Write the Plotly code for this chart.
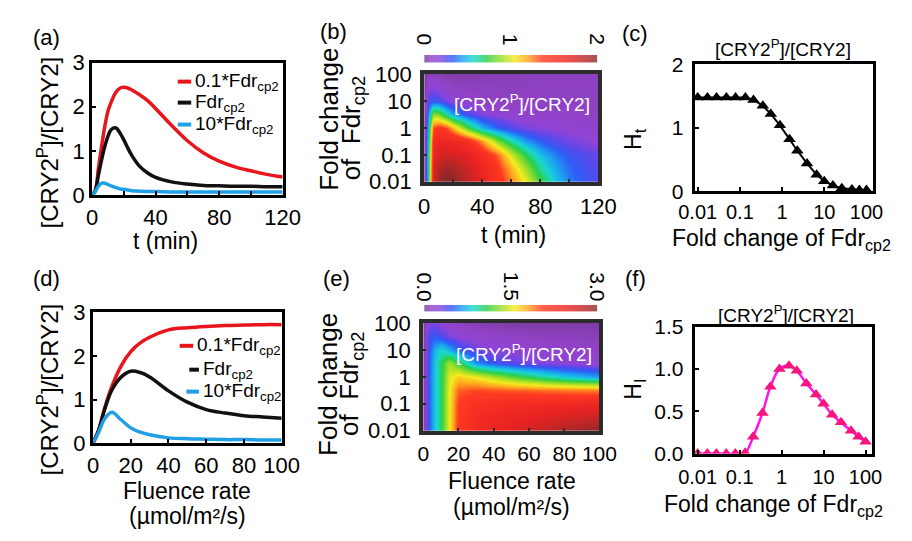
import plotly.graph_objects as go

W, H = 912, 541
FONT = "Liberation Sans"

# ---------------- data ----------------
# (a) [CRY2P]/[CRY2] versus time for three Fdr_cp2 levels
t_min = [0, 2, 4, 6, 8, 10, 12, 15, 18, 20, 22, 25, 30, 35, 40, 50, 60, 70, 80, 90, 100, 110, 120]
ratio_t_01 = [0, 0.1, 0.6, 1.1, 1.55, 1.9, 2.1, 2.33, 2.43, 2.44, 2.43, 2.38, 2.27, 2.14, 1.96,
              1.58, 1.23, 0.96, 0.77, 0.64, 0.55, 0.47, 0.41]
ratio_t_1 = [0, 0.1, 0.45, 0.8, 1.1, 1.33, 1.48, 1.52, 1.38, 1.25, 1.1, 0.9, 0.65, 0.5, 0.4,
             0.3, 0.25, 0.22, 0.21, 0.2, 0.2, 0.19, 0.19]
ratio_t_10 = [0, 0.08, 0.2, 0.27, 0.27, 0.24, 0.21, 0.17, 0.14, 0.13, 0.12, 0.1, 0.09, 0.08, 0.08,
              0.07, 0.07, 0.07, 0.07, 0.07, 0.07, 0.07, 0.07]

# (d) [CRY2P]/[CRY2] versus fluence rate
fluence = [0, 3, 6, 10, 15, 20, 25, 30, 40, 50, 60, 70, 80, 90, 100]
ratio_f_01 = [0, 0.3, 0.78, 1.3, 1.78, 2.1, 2.3, 2.43, 2.6, 2.65, 2.68, 2.7, 2.71, 2.72, 2.72]
ratio_f_1 = [0, 0.3, 0.75, 1.22, 1.52, 1.65, 1.62, 1.52, 1.2, 0.94, 0.77, 0.69, 0.63, 0.6, 0.57]
ratio_f_10 = [0, 0.25, 0.55, 0.71, 0.53, 0.35, 0.25, 0.19, 0.12, 0.1, 0.09, 0.08, 0.08, 0.07, 0.07]

series_names = ["0.1*Fdr<sub>cp2</sub>", "Fdr<sub>cp2</sub>", "10*Fdr<sub>cp2</sub>"]
series_colors = ["#e8161c", "#111111", "#1e9fe6"]

# (c), (f) sensitivity versus fold change of Fdr_cp2
fold_change = [0.01, 0.017, 0.028, 0.048, 0.079, 0.135, 0.21, 0.35, 0.54, 0.89,
               1.5, 2.3, 3.9, 6.6, 10, 16, 26, 45, 68, 100]
H_t = [1.48, 1.48, 1.48, 1.48, 1.48, 1.48, 1.44, 1.35, 1.22, 1.04,
       0.82, 0.64, 0.44, 0.26, 0.16, 0.09, 0.05, 0.03, 0.02, 0.02]
H_I = [0, 0, 0, 0, 0, 0.01, 0.2, 0.48, 0.79, 1.0,
       1.04, 0.98, 0.83, 0.7, 0.59, 0.46, 0.37, 0.27, 0.2, 0.14]

# (b) heat map over time (columns) and log10 fold change (rows)
hm_log_fold = [-2, -1.5, -1, -0.5, 0, 0.5, 1, 1.5, 2]
hm_t = [0, 3, 6, 10, 15, 20, 30, 40, 50, 60, 70, 80, 90, 100, 110, 120]
z_time = [
    [0, 0.6, 1.75, 1.95, 2.0, 1.98, 1.85, 1.65, 1.45, 1.25, 1.02, 0.75, 0.52, 0.38, 0.3, 0.25],
    [0, 0.6, 1.7, 1.88, 1.92, 1.9, 1.78, 1.6, 1.4, 1.15, 0.88, 0.62, 0.45, 0.34, 0.28, 0.24],
    [0, 0.6, 1.62, 1.75, 1.78, 1.76, 1.68, 1.52, 1.3, 0.98, 0.7, 0.5, 0.38, 0.3, 0.25, 0.22],
    [0, 0.55, 1.55, 1.62, 1.62, 1.6, 1.48, 1.2, 0.85, 0.6, 0.42, 0.32, 0.25, 0.2, 0.17, 0.15],
    [0, 0.5, 1.35, 1.42, 1.35, 1.15, 0.75, 0.48, 0.33, 0.25, 0.2, 0.17, 0.15, 0.13, 0.12, 0.11],
    [0, 0.4, 0.85, 0.8, 0.6, 0.42, 0.26, 0.18, 0.14, 0.12, 0.1, 0.09, 0.08, 0.08, 0.07, 0.07],
    [0, 0.25, 0.3, 0.27, 0.2, 0.15, 0.1, 0.08, 0.07, 0.07, 0.07, 0.07, 0.07, 0.07, 0.07, 0.07],
    [0, 0.15, 0.16, 0.12, 0.09, 0.07, 0.06, 0.06, 0.06, 0.06, 0.06, 0.07, 0.07, 0.07, 0.07, 0.07],
    [0, 0.05, 0.05, 0.04, 0.03, 0.03, 0.03, 0.04, 0.05, 0.05, 0.06, 0.06, 0.06, 0.06, 0.06, 0.06],
]

# (e) heat map over fluence rate (columns) and log10 fold change (rows)
hm_fluence = [0, 3, 6, 10, 15, 20, 30, 40, 50, 60, 70, 80, 90, 100]
z_fluence = [
    [0, 0.45, 0.75, 1.05, 1.55, 2.1, 2.35, 2.45, 2.55, 2.65, 2.75, 2.85, 2.92, 2.97],
    [0, 0.45, 0.75, 1.05, 1.55, 2.08, 2.3, 2.38, 2.45, 2.5, 2.55, 2.6, 2.65, 2.7],
    [0, 0.45, 0.75, 1.05, 1.55, 2.05, 2.2, 2.25, 2.3, 2.32, 2.35, 2.37, 2.4, 2.42],
    [0, 0.45, 0.75, 1.05, 1.55, 1.95, 2.0, 1.98, 1.95, 1.93, 1.9, 1.88, 1.86, 1.85],
    [0, 0.45, 0.75, 1.05, 1.5, 1.65, 1.55, 1.38, 1.2, 1.05, 0.92, 0.8, 0.72, 0.65],
    [0, 0.45, 0.75, 1.05, 1.35, 1.1, 0.6, 0.45, 0.36, 0.3, 0.26, 0.22, 0.2, 0.18],
    [0, 0.4, 0.7, 0.85, 0.7, 0.5, 0.32, 0.24, 0.2, 0.17, 0.15, 0.14, 0.13, 0.12],
    [0, 0.4, 0.45, 0.38, 0.28, 0.22, 0.16, 0.13, 0.11, 0.1, 0.09, 0.09, 0.08, 0.08],
    [0, 0.25, 0.28, 0.22, 0.15, 0.1, 0.06, 0.04, 0.03, 0.03, 0.03, 0.03, 0.03, 0.03],
]

fold_tickvals_log = [-2, -1, 0, 1, 2]
fold_ticktext = ["0.01", "0.1", "1", "10", "100"]
cbar_time_range = [0, 2]
cbar_time_ticks = [0, 1, 2]
cbar_time_text = ["0", "1", "2"]
cbar_flu_range = [0, 3]
cbar_flu_ticks = [0, 1.5, 3]
cbar_flu_text = ["0.0", "1.5", "3.0"]

rainbow = [
    [0.00, "#7a3a9e"], [0.04, "#9242c8"], [0.08, "#8e44d8"], [0.12, "#5a48ec"],
    [0.16, "#2f5cf6"], [0.22, "#1aa6f0"], [0.28, "#1ad8d0"], [0.36, "#2cd046"],
    [0.44, "#9ade2a"], [0.52, "#f4ec1e"], [0.60, "#ffa020"], [0.68, "#ff3a22"],
    [0.84, "#e82222"], [0.92, "#c02626"], [1.00, "#862828"],
]

# ---------------- layout helpers (pixel -> paper) ----------------
def xd(left, right):
    return [left / W, right / W]


def yd(top, bottom):
    return [1 - bottom / H, 1 - top / H]


def tickfont(size=22):
    return dict(family=FONT, size=size, color="black")


def framed(domain, rng, anchor, lw=3, lc="black", **kw):
    ax = dict(domain=domain, range=rng, anchor=anchor, showline=True, linecolor=lc,
              linewidth=lw, mirror=True, ticks="inside", ticklen=4, tickwidth=2,
              tickcolor="black", showgrid=False, zeroline=False, tickfont=tickfont())
    ax.update(kw)
    return ax


fig = go.Figure()

# (a) time courses
for y, name, col in zip([ratio_t_01, ratio_t_1, ratio_t_10], series_names, series_colors):
    fig.add_trace(go.Scatter(x=t_min, y=y, mode="lines", name=name, showlegend=False,
                             line=dict(color=col, width=3.5, shape="spline"),
                             xaxis="x", yaxis="y"))

# (d) fluence responses
for y, name, col in zip([ratio_f_01, ratio_f_1, ratio_f_10], series_names, series_colors):
    fig.add_trace(go.Scatter(x=fluence, y=y, mode="lines", name=name, showlegend=False,
                             line=dict(color=col, width=3.5, shape="spline"),
                             xaxis="x4", yaxis="y4"))

# (b) heat map over time
fig.add_trace(go.Heatmap(x=hm_t, y=hm_log_fold, z=z_time, colorscale=rainbow,
                         zmin=cbar_time_range[0], zmax=cbar_time_range[1], zsmooth="best",
                         showscale=False, xaxis="x2", yaxis="y2"))
fig.add_trace(go.Heatmap(x=cbar_time_range, y=[0, 1], z=[cbar_time_range, cbar_time_range],
                         colorscale=rainbow, zmin=cbar_time_range[0], zmax=cbar_time_range[1],
                         zsmooth="best", showscale=False, xaxis="x7", yaxis="y7", opacity=0.8))

# (e) heat map over fluence rate
fig.add_trace(go.Heatmap(x=hm_fluence, y=hm_log_fold, z=z_fluence, colorscale=rainbow,
                         zmin=cbar_flu_range[0], zmax=cbar_flu_range[1], zsmooth="best",
                         showscale=False, xaxis="x5", yaxis="y5"))
fig.add_trace(go.Heatmap(x=cbar_flu_range, y=[0, 1], z=[cbar_flu_range, cbar_flu_range],
                         colorscale=rainbow, zmin=cbar_flu_range[0], zmax=cbar_flu_range[1],
                         zsmooth="best", showscale=False, xaxis="x8", yaxis="y8", opacity=0.8))

# (c) H_t
fig.add_trace(go.Scatter(x=fold_change, y=H_t, mode="lines+markers", showlegend=False,
                         line=dict(color="black", width=2),
                         marker=dict(symbol="triangle-up", size=11, color="black"),
                         xaxis="x3", yaxis="y3"))
# (f) H_I
fig.add_trace(go.Scatter(x=fold_change, y=H_I, mode="lines+markers", showlegend=False,
                         line=dict(color="#ff14f0", width=2.5, shape="spline"),
                         marker=dict(symbol="triangle-up", size=11, color="#f5157d"),
                         xaxis="x6", yaxis="y6"))

heat_frame = dict(lw=4, lc="#2c2c2c", ticklen=3, tickcolor="#2c2c2c")

layout = dict(
    width=W, height=H, margin=dict(l=0, r=0, t=0, b=0),
    paper_bgcolor="white", plot_bgcolor="white", showlegend=False,
    font=dict(family=FONT, color="black"),
    # (a)
    xaxis=framed(xd(79, 277), [0, 120], "y", tickvals=[0, 20, 40, 60, 80, 100, 120],
                 ticktext=["0", "", "40", "", "80", "", "120"], ticklabelstandoff=0),
    yaxis=framed(yd(53, 192), [0, 3], "x", tickvals=[0, 1, 2, 3]),
    # (b)
    xaxis2=framed(xd(424, 605), [0, 120], "y2", tickvals=[0, 20, 40, 60, 80, 100, 120],
                  ticktext=["0", "", "40", "", "80", "", "120"], ticklabelstandoff=2,
                  **heat_frame),
    yaxis2=framed(yd(65, 178), [-2, 2], "x2", tickvals=fold_tickvals_log,
                  ticktext=fold_ticktext, ticklabelstandoff=4, **heat_frame),
    # (c)
    xaxis3=framed(xd(705, 890), [-2.07, 2.15], "y3", type="log",
                  tickvals=[0.01, 0.1, 1, 10, 100], ticktext=fold_ticktext,
                  tickfont=tickfont(20), ticklabelstandoff=1),
    yaxis3=framed(yd(55, 188), [0, 2], "x3", tickvals=[0, 1, 2], tickfont=tickfont(21),
                  ticklabelstandoff=4),
    # (d)
    xaxis4=framed(xd(80, 276), [0, 100], "y4", tickvals=[0, 20, 40, 60, 80, 100],
                  ticklabelstandoff=0),
    yaxis4=framed(yd(315, 452), [0, 3], "x4", tickvals=[0, 1, 2, 3]),
    # (e)
    xaxis5=framed(xd(423, 606), [0, 100], "y5", tickvals=[0, 20, 40, 60, 80, 100],
                  tickfont=tickfont(21), ticklabelstandoff=1, **heat_frame),
    yaxis5=framed(yd(326, 439), [-2, 2], "x5", tickvals=fold_tickvals_log,
                  ticktext=fold_ticktext, ticklabelstandoff=4, **heat_frame),
    # (f)
    xaxis6=framed(xd(705, 889), [-2.07, 2.15], "y6", type="log",
                  tickvals=[0.01, 0.1, 1, 10, 100], ticktext=fold_ticktext,
                  tickfont=tickfont(20), ticklabelstandoff=3),
    yaxis6=framed(yd(330, 463), [0, 1.5], "x6", tickvals=[0, 0.5, 1, 1.5],
                  ticktext=["0.0", "0.5", "1.0", "1.5"], tickfont=tickfont(21),
                  ticklabelstandoff=4),
    # colour bar strips for (b) and (e); their labels are added below
    xaxis7=dict(domain=xd(424, 604), range=cbar_time_range, anchor="y7", visible=False),
    yaxis7=dict(domain=yd(45, 53), range=[0, 1], anchor="x7", visible=False),
    xaxis8=dict(domain=xd(424, 604), range=cbar_flu_range, anchor="y8", visible=False),
    yaxis8=dict(domain=yd(307, 314), range=[0, 1], anchor="x8", visible=False),
)
fig.update_layout(**layout)


def note(text, x, y, size=23, angle=0, color="black", xanchor="center"):
    fig.add_annotation(text=text, x=x / W, y=1 - y / H, xref="paper", yref="paper",
                       showarrow=False, textangle=angle, xanchor=xanchor, yanchor="middle",
                       font=dict(family=FONT, size=size, color=color))


# colour-bar labels, rotated and placed on the strip's own value axis
for xref, vals, texts, ypx in [("x7", cbar_time_ticks, cbar_time_text, 29),
                               ("x8", cbar_flu_ticks, cbar_flu_text, 288)]:
    for v, s in zip(vals, texts):
        fig.add_annotation(text=s, x=v, xref=xref, y=1 - ypx / H, yref="paper",
                           showarrow=False, textangle=90, xanchor="center",
                           yanchor="middle", font=dict(family=FONT, size=21, color="black"))

ratio_label = "[CRY2<sup>P</sup>]/[CRY2]"
fold_label = "Fold change of Fdr<sub>cp2</sub>"
fold_line1 = "Fold change"
fold_line2 = "of  Fdr<sub>cp2</sub>"

# panel letters
for letter, x, y in [("(a)", 32, 27), ("(b)", 330, 20), ("(c)", 643, 23),
                     ("(d)", 32, 279), ("(e)", 333, 279), ("(f)", 644, 279)]:
    note(letter, x, y, size=22)

# (a)
note("t (min)", 155, 240)
note(ratio_label, 33, 137, size=24, angle=-90)
# (b)
note("t (min)", 517, 234)
note(fold_line1, 325, 112, size=26, angle=-90)
note(fold_line2, 349, 122, size=26, angle=-90)
note(ratio_label, 526, 95, size=19, color="white")
# (c)
note(ratio_label, 797, 38, size=19)
note(fold_label, 795, 238, size=23)
note("H<sub>t</sub>", 643, 133, size=23, angle=-90)
# (d)
note("Fluence rate", 178, 502)
note("(µmol/m²/s)", 178, 528)
note(ratio_label, 33, 396, size=24, angle=-90)
# (e)
note("Fluence rate", 515, 492)
note("(µmol/m²/s)", 515, 519)
note(fold_line1, 324, 390, size=26, angle=-90)
note(fold_line2, 348, 390, size=26, angle=-90)
note(ratio_label, 528, 357, size=19, color="white")
# (f)
note(ratio_label, 800, 317, size=19)
note(fold_label, 787, 517, size=23)
note("H<sub>I</sub>", 643, 396, size=23, angle=-90)

# in-plot legends for (a) and (d)
legend_rows = {
    "a": [(168, 182, 184, 73), (168, 182, 184, 95), (168, 182, 184, 118)],
    "d": [(170, 184, 186, 350), (180, 190, 192, 375), (177, 190, 192, 398)],
}
for rows in legend_rows.values():
    for (x0, x1, xt, y), name, col in zip(rows, series_names, series_colors):
        fig.add_shape(type="line", xref="paper", yref="paper", x0=x0 / W, x1=x1 / W,
                      y0=1 - y / H, y1=1 - y / H, line=dict(color=col, width=4))
        note(name, xt, y, size=19, xanchor="left")

fig.write_html("out.html")
